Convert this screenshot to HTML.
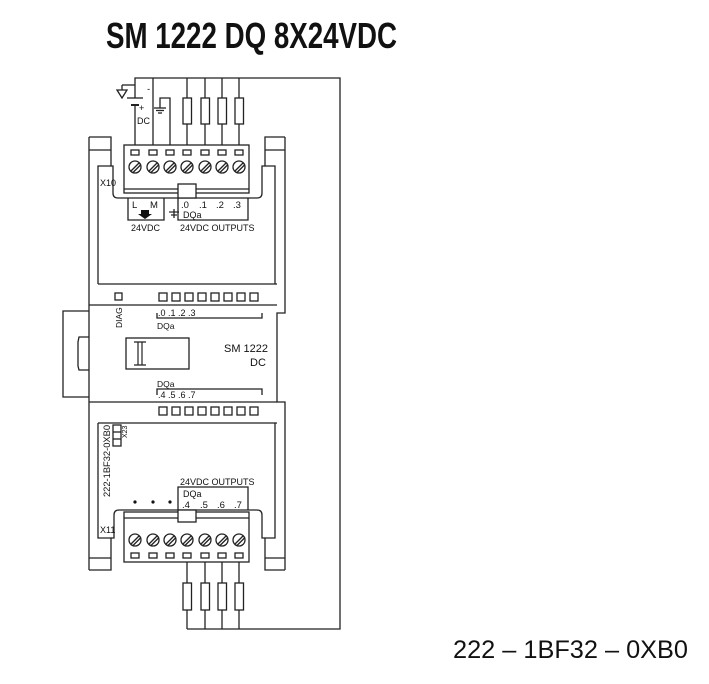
<!DOCTYPE html>
<html><head><meta charset="utf-8"><style>
html,body{margin:0;padding:0;background:#fff;}
svg{display:block;}
text{font-family:"Liberation Sans",sans-serif;fill:#111;}
</style></head><body>
<svg width="709" height="684" viewBox="0 0 709 684" xmlns="http://www.w3.org/2000/svg">
<text x="106" y="48" font-size="36" font-weight="bold" textLength="291" lengthAdjust="spacingAndGlyphs">SM 1222 DQ 8X24VDC</text>
<text x="453" y="658" font-size="25" textLength="235" lengthAdjust="spacingAndGlyphs">222 – 1BF32 – 0XB0</text>

<g stroke="#222" stroke-width="1.3" fill="none">
<polyline points="135,98 135,78 340,78 340,629 187,629"/>
<line x1="135" y1="105" x2="135" y2="145"/>
<line x1="127" y1="98" x2="143" y2="98"/>
<line x1="131" y1="105" x2="139" y2="105" stroke-width="2"/>
<line x1="153" y1="78" x2="153" y2="145"/>
<polyline points="160,108 160,98 170,98 170,145"/>
<line x1="154" y1="108" x2="166" y2="108"/>
<line x1="156" y1="110.5" x2="164" y2="110.5"/>
<line x1="158" y1="113" x2="162" y2="113"/>
<polygon points="117,90 127,90 122,98"/>
<line x1="122" y1="85" x2="135" y2="85"/>
<line x1="122" y1="85" x2="122" y2="90"/>
<line x1="187" y1="78" x2="187" y2="145"/><line x1="205" y1="78" x2="205" y2="145"/>
<line x1="222" y1="78" x2="222" y2="145"/><line x1="239" y1="78" x2="239" y2="145"/>
<g fill="#fff">
<rect x="183" y="98" width="8.5" height="26"/><rect x="201" y="98" width="8.5" height="26"/>
<rect x="218" y="98" width="8.5" height="26"/><rect x="235" y="98" width="8.5" height="26"/>
</g>
<line x1="187" y1="562" x2="187" y2="629"/><line x1="205" y1="562" x2="205" y2="629"/>
<line x1="222" y1="562" x2="222" y2="629"/><line x1="239" y1="562" x2="239" y2="629"/>
<g fill="#fff">
<rect x="183" y="583" width="8.5" height="27"/><rect x="201" y="583" width="8.5" height="27"/>
<rect x="218" y="583" width="8.5" height="27"/><rect x="235" y="583" width="8.5" height="27"/>
</g>
<line x1="89" y1="137" x2="89" y2="570"/>
<polyline points="285,137 285,313 277,313 277,402 285,402 285,570"/>
<polyline points="89,137 111,137 111,166 98,166 98,284"/>
<line x1="89" y1="150" x2="111" y2="150"/>
<polyline points="285,137 265,137 265,166 275,166 275,284"/>
<line x1="265" y1="150" x2="285" y2="150"/>
<path d="M111,166 L113,166 L113,193 Q113,198 118,198 L257,198 Q262,198 262,193 L262,166 L265,166"/>
<rect x="124" y="145" width="125" height="48" fill="#fff"/>
<line x1="124" y1="189" x2="249" y2="189"/>
<rect x="178" y="184" width="18" height="14" fill="#fff"/>
<polyline points="128,198 128,220 164,220 164,198"/>
<polyline points="178,198 178,220 248,220 248,198"/>
<line x1="98" y1="284" x2="277" y2="284"/>
<line x1="89" y1="305" x2="277" y2="305"/>
<line x1="89" y1="402" x2="277" y2="402"/>
<line x1="98" y1="423" x2="277" y2="423"/>
<polyline points="89,311 63,311 63,397 89,397"/>
<polyline points="89,337 79,337 78,342 78,366 79,370 89,370"/>
<polyline points="157,313 157,318 262,318 262,313"/>
<polyline points="157,395 157,389 262,389 262,395"/>
<rect x="126" y="338" width="63" height="31"/>
<rect x="115" y="293" width="7" height="7"/>
<g>
<rect x="159" y="293" width="8" height="8"/><rect x="172" y="293" width="8" height="8"/><rect x="185" y="293" width="8" height="8"/><rect x="198" y="293" width="8" height="8"/><rect x="211" y="293" width="8" height="8"/><rect x="224" y="293" width="8" height="8"/><rect x="237" y="293" width="8" height="8"/><rect x="250" y="293" width="8" height="8"/>
<rect x="159" y="407" width="8" height="8"/><rect x="172" y="407" width="8" height="8"/><rect x="185" y="407" width="8" height="8"/><rect x="198" y="407" width="8" height="8"/><rect x="211" y="407" width="8" height="8"/><rect x="224" y="407" width="8" height="8"/><rect x="237" y="407" width="8" height="8"/><rect x="250" y="407" width="8" height="8"/>
</g>
<polyline points="98,423 98,538 111,538 111,570 89,570"/>
<line x1="89" y1="558" x2="111" y2="558"/>
<polyline points="275,423 275,538 265,538 265,570 285,570"/>
<line x1="265" y1="558" x2="285" y2="558"/>
<path d="M111,538 L114,538 L114,515 Q114,510 119,510 L257,510 Q262,510 262,515 L262,538 L265,538"/>
<rect x="124" y="512" width="125" height="50" fill="#fff"/>
<line x1="124" y1="518" x2="249" y2="518"/>
<rect x="178" y="510" width="18" height="12" fill="#fff"/>
<polyline points="178,510 178,487 248,487 248,510"/>
<rect x="113" y="425" width="8" height="21"/>
<line x1="113" y1="432" x2="121" y2="432"/><line x1="113" y1="439" x2="121" y2="439"/>
</g>
<g stroke="#222" stroke-width="1.3" fill="#fff">
<rect x="131" y="150" width="8" height="5"/><rect x="149" y="150" width="8" height="5"/><rect x="166" y="150" width="8" height="5"/><rect x="183" y="150" width="8" height="5"/><rect x="201" y="150" width="8" height="5"/><rect x="218" y="150" width="8" height="5"/><rect x="235" y="150" width="8" height="5"/>
<rect x="131" y="553" width="8" height="5"/><rect x="149" y="553" width="8" height="5"/><rect x="166" y="553" width="8" height="5"/><rect x="183" y="553" width="8" height="5"/><rect x="201" y="553" width="8" height="5"/><rect x="218" y="553" width="8" height="5"/><rect x="235" y="553" width="8" height="5"/>
<circle cx="135" cy="167" r="6"/><circle cx="153" cy="167" r="6"/><circle cx="170" cy="167" r="6"/><circle cx="187" cy="167" r="6"/><circle cx="205" cy="167" r="6"/><circle cx="222" cy="167" r="6"/><circle cx="239" cy="167" r="6"/>
<circle cx="135" cy="540" r="6"/><circle cx="153" cy="540" r="6"/><circle cx="170" cy="540" r="6"/><circle cx="187" cy="540" r="6"/><circle cx="205" cy="540" r="6"/><circle cx="222" cy="540" r="6"/><circle cx="239" cy="540" r="6"/>
<g fill="none">
<path d="M131,171l8,-8M133,172.5l8,-8M149,171l8,-8M151,172.5l8,-8M166,171l8,-8M168,172.5l8,-8M183,171l8,-8M185,172.5l8,-8M201,171l8,-8M203,172.5l8,-8M218,171l8,-8M220,172.5l8,-8M235,171l8,-8M237,172.5l8,-8"/>
<path d="M131,544l8,-8M133,545.5l8,-8M149,544l8,-8M151,545.5l8,-8M166,544l8,-8M168,545.5l8,-8M183,544l8,-8M185,545.5l8,-8M201,544l8,-8M203,545.5l8,-8M218,544l8,-8M220,545.5l8,-8M235,544l8,-8M237,545.5l8,-8"/>
</g>
</g>
<g stroke="#222" stroke-width="1.2" fill="none">
<path d="M134,342 H146 M134,365 H146 M138,342 V365 M142,342 V365"/>
<line x1="174" y1="209" x2="174" y2="218" stroke-width="1.3"/>
<line x1="169" y1="212" x2="179" y2="212"/><line x1="171" y1="215" x2="177" y2="215"/>
</g>
<polygon points="141,210 149,210 149,214 152,214 145,219 138,214 141,214" fill="#111"/>
<circle cx="135" cy="502" r="1.6" fill="#111"/><circle cx="153" cy="502" r="1.6" fill="#111"/><circle cx="170" cy="502" r="1.6" fill="#111"/>
<g font-size="9.5">
<text x="147" y="92">-</text>
<text x="139" y="111" font-size="9">+</text>
<text x="137" y="124" font-size="9">DC</text>
<text x="100" y="186" font-size="9">X10</text>
<text x="132" y="208">L</text><text x="150" y="208">M</text>
<text x="131" y="231" font-size="9">24VDC</text>
<text x="181" y="208">.0</text><text x="199" y="208">.1</text><text x="216" y="208">.2</text><text x="233" y="208">.3</text>
<text x="183" y="218" font-size="9">DQa</text>
<text x="180" y="231" font-size="9">24VDC OUTPUTS</text>
<text x="158" y="316" font-size="9">.0 .1 .2 .3</text>
<text x="157" y="329" font-size="8.5">DQa</text>
<text x="224" y="352" font-size="11">SM 1222</text>
<text x="250" y="366" font-size="11">DC</text>
<text x="157" y="387" font-size="8.5">DQa</text>
<text x="158" y="398" font-size="9">.4 .5 .6 .7</text>
<text transform="translate(122,328) rotate(-90)" font-size="8.5">DIAG</text>
<text transform="translate(110,497) rotate(-90)" font-size="9" textLength="72" lengthAdjust="spacingAndGlyphs">222-1BF32-0XB0</text>
<text x="114" y="445" font-size="7" transform="rotate(-90 117 435)">X23</text>
<text x="180" y="485" font-size="9">24VDC OUTPUTS</text>
<text x="183" y="497" font-size="9">DQa</text>
<text x="182" y="508">.4</text><text x="200" y="508">.5</text><text x="217" y="508">.6</text><text x="234" y="508">.7</text>
<text x="100" y="533" font-size="9">X11</text>
</g>
</svg>
</body></html>
